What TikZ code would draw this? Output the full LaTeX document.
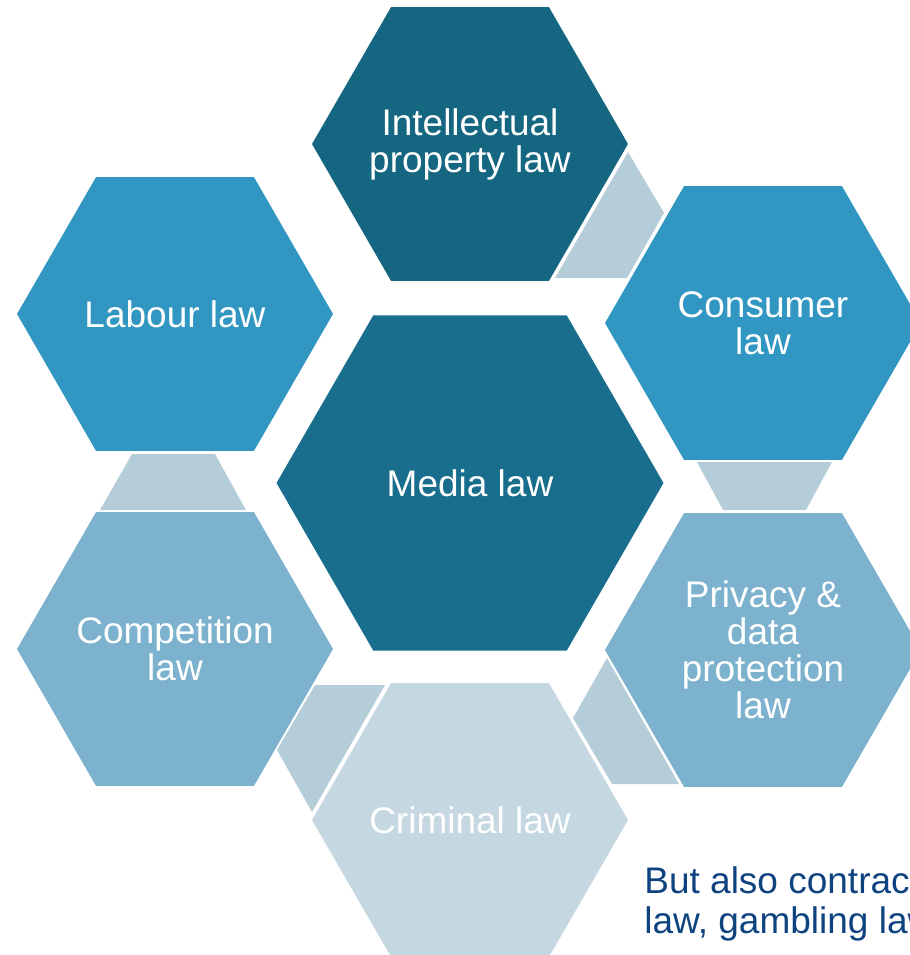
\documentclass[tikz,border=0pt]{standalone}
\usepackage{fontspec}
\setmainfont{Liberation Sans}
\usetikzlibrary{shapes.geometric}
\definecolor{ipteal}{RGB}{21,102,128}
\definecolor{mediateal}{RGB}{24,110,140}
\definecolor{midblue}{RGB}{49,151,194}
\definecolor{paleblue}{RGB}{124,178,206}
\definecolor{mistblue}{RGB}{197,215,225}
\definecolor{linkgrey}{RGB}{181,205,216}
\definecolor{notenavy}{RGB}{14,67,128}
\begin{document}
\begin{tikzpicture}[x=.5pt,y=-.5pt,
  area/.style={regular polygon,regular polygon sides=6,minimum size=158pt,inner sep=0pt},
  caption/.style={text=white,align=center,inner sep=0pt,font=\fontsize{18.5}{18.5}\selectfont},
  link/.style={fill=linkgrey},
  note/.style={anchor=north west,inner sep=0pt,align=left,text=notenavy,
    font=\fontsize{18.5}{20}\selectfont}]
\useasboundingbox (0,0) rectangle (910,955);
\clip (0,0) rectangle (910,955);
% centre and ring of fields
\node[area,fill=mediateal,minimum size=193.5pt,label={[caption]center:Media law}] (media) at (470,483) {};
\node[area,fill=ipteal,label={[caption]center:{Intellectual\\property law}}] (ip) at (470,144) {};
\node[area,fill=midblue,label={[caption]center:Labour law}] (labour) at (175,314) {};
\node[area,fill=midblue,label={[caption]center:{Consumer\\law}}] (consumer) at (763,323) {};
\node[area,fill=paleblue,label={[caption]center:{Competition\\law}}] (competition) at (175,649) {};
\node[area,fill=paleblue,label={[caption]center:{Privacy \&\\data\\protection\\law}}] (privacy) at (763,650) {};
\node[area,fill=mistblue,label={[caption]center:Criminal law}] (criminal) at (470,820) {};
% links between neighbours
\fill[link] (628,152) -- (664,213) -- (627,278) -- (555,278) -- cycle;
\fill[link] (132,454) -- (215,454) -- (246,510) -- (100,510) -- cycle;
\fill[link] (697,462) -- (832,462) -- (806,510) -- (723,510) -- cycle;
\fill[link] (607,658) -- (679,784) -- (612,784) -- (573,718) -- cycle;
\fill[link] (315,685) -- (385,685) -- (312,812) -- (277,750) -- cycle;
\node[note] (more) at (644,866) {But also contract\\law, gambling law};
\end{tikzpicture}
\end{document}
